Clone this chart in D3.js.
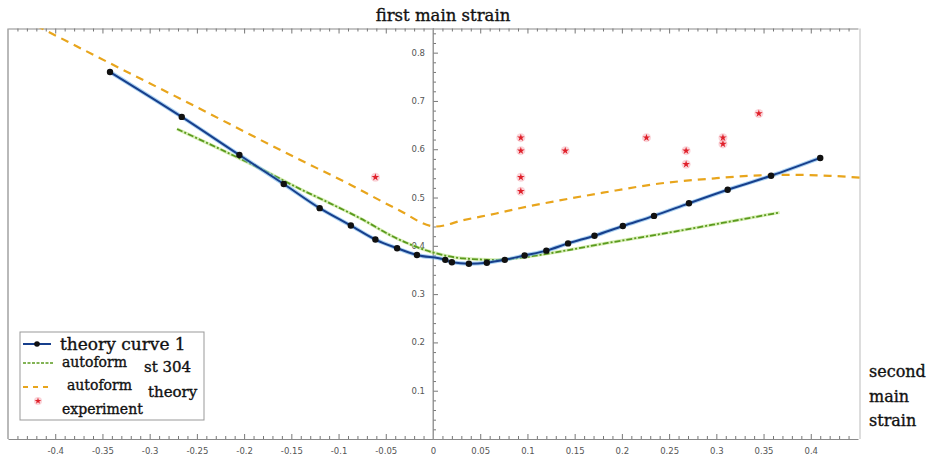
<!DOCTYPE html>
<html>
<head>
<meta charset="utf-8">
<script src="https://cdn.jsdelivr.net/npm/d3@7"></script>
<style>
  html, body { margin: 0; padding: 0; background: #fff; }
  svg { display: block; }
  .serif { font-family: "DejaVu Serif", serif; fill: #111; stroke: #111; stroke-width: 0.35px; }
</style>
</head>
<body>
<svg id="chart" width="942" height="458"></svg>
<script>
// ---------- data ----------
const theoryX = [-0.342, -0.266, -0.205, -0.158, -0.120, -0.087, -0.061, -0.038, -0.017, 0.013, 0.020, 0.038, 0.057, 0.076, 0.097, 0.120, 0.143, 0.171, 0.201, 0.234, 0.271, 0.312, 0.358, 0.410];
const theoryY = [0.760, 0.667, 0.588, 0.528, 0.478, 0.442, 0.413, 0.395, 0.381, 0.371, 0.366, 0.363, 0.365, 0.371, 0.380, 0.390, 0.405, 0.421, 0.441, 0.462, 0.488, 0.516, 0.545, 0.582];

const st304X = [-0.271, -0.183, -0.141, -0.109, -0.077, -0.038, -0.003, 0.032, 0.067, 0.095, 0.134, 0.185, 0.240, 0.311, 0.367];
const st304Y = [0.642, 0.560, 0.518, 0.488, 0.457, 0.415, 0.388, 0.374, 0.371, 0.376, 0.388, 0.406, 0.424, 0.449, 0.469];

const afTheoryX = [-0.42, -0.342, -0.265, -0.148, -0.088, -0.038, 0.003, 0.032, 0.067, 0.099, 0.134, 0.180, 0.240, 0.300, 0.346, 0.381, 0.420, 0.452];
const afTheoryY = [0.856, 0.778, 0.702, 0.585, 0.527, 0.476, 0.440, 0.453, 0.467, 0.481, 0.494, 0.510, 0.529, 0.540, 0.546, 0.547, 0.545, 0.541];

const expX = [-0.061, 0.093, 0.093, 0.093, 0.093, 0.140, 0.226, 0.268, 0.268, 0.307, 0.307, 0.345];
const expY = [0.542, 0.624, 0.597, 0.542, 0.513, 0.597, 0.624, 0.597, 0.569, 0.624, 0.611, 0.674];

const xTickValues = [-0.4, -0.35, -0.3, -0.25, -0.2, -0.15, -0.1, -0.05, 0, 0.05, 0.1, 0.15, 0.2, 0.25, 0.3, 0.35, 0.4];
const xTickLabels = ["-0.4", "-0.35", "-0.3", "-0.25", "-0.2", "-0.15", "-0.1", "-0.05", "0", "0.05", "0.1", "0.15", "0.2", "0.25", "0.3", "0.35", "0.4"];
const yTickValues = [0.1, 0.2, 0.3, 0.4, 0.5, 0.6, 0.7, 0.8];
const yTickLabels = ["0.1", "0.2", "0.3", "0.4", "0.5", "0.6", "0.7", "0.8"];

const titleText = "first main strain";
const sideLabel = ["second", "main", "strain"];
const legendNames = ["theory curve 1", "autoform", "st 304", "autoform", "theory", "experiment"];

// ---------- layout ----------
const svg = d3.select("#chart");
const L = 8, R = 858, T = 28.5, B = 439;
const x = d3.scaleLinear().domain([-0.45, 0.45]).range([L, R]);
const y = d3.scaleLinear().domain([0, 0.85]).range([B, T]);

const frameColor = "#8a8a8a";
const tickColor = "#777";
const labelColor = "#555";

svg.append("defs").append("clipPath").attr("id", "plotclip")
  .append("rect").attr("x", L).attr("y", T).attr("width", R - L + 2).attr("height", B - T);

// frame: left, right lines
svg.append("line").attr("x1", L).attr("x2", L).attr("y1", T).attr("y2", B).attr("stroke", frameColor).attr("stroke-width", 1.2);
svg.append("line").attr("x1", R + 2).attr("x2", R + 2).attr("y1", T).attr("y2", B).attr("stroke", "#bbb").attr("stroke-width", 1);

// minor tick arrays
const xMinor = d3.range(-45, 46, 1).map(d => d / 100).filter(v => Math.abs(Math.round(v * 100) % 5) !== 0);
const yMinor = d3.range(2, 85, 2).map(d => d / 100).filter(v => Math.round(v * 100) % 10 !== 0);

// bottom axis (ticks pointing up)
const bottomMajor = d3.axisBottom(x).tickValues(xTickValues)
  .tickFormat((d, i) => xTickLabels[i]).tickSizeInner(-5).tickSizeOuter(0).tickPadding(9);
const gb = svg.append("g").attr("transform", `translate(0,${B})`).call(bottomMajor);
gb.select(".domain").attr("stroke", frameColor).attr("stroke-width", 1.2);
gb.selectAll(".tick line").attr("stroke", tickColor);
gb.selectAll(".tick text").attr("fill", labelColor).attr("font-family", "DejaVu Sans, sans-serif").attr("font-size", 8.5);
const gbm = svg.append("g").attr("transform", `translate(0,${B})`)
  .call(d3.axisBottom(x).tickValues(xMinor).tickFormat("").tickSizeInner(-3).tickSizeOuter(0));
gbm.select(".domain").remove();
gbm.selectAll(".tick line").attr("stroke", tickColor);

// top axis (ticks pointing down)
const gt = svg.append("g").attr("transform", `translate(0,${T})`)
  .call(d3.axisTop(x).tickValues(xTickValues).tickFormat("").tickSizeInner(-5).tickSizeOuter(0));
gt.select(".domain").attr("stroke", frameColor).attr("stroke-width", 1.2);
gt.selectAll(".tick line").attr("stroke", tickColor);
const gtm = svg.append("g").attr("transform", `translate(0,${T})`)
  .call(d3.axisTop(x).tickValues(xMinor).tickFormat("").tickSizeInner(-3).tickSizeOuter(0));
gtm.select(".domain").remove();
gtm.selectAll(".tick line").attr("stroke", tickColor);

// central y axis at x=0 (ticks to the right, labels on the left)
const x0 = x(0);
const gy = svg.append("g").attr("transform", `translate(${x0},0)`)
  .call(d3.axisRight(y).tickValues(yTickValues).tickFormat("").tickSizeInner(5).tickSizeOuter(0));
gy.select(".domain").attr("stroke", "#999").attr("stroke-width", 1);
gy.selectAll(".tick line").attr("stroke", tickColor);
const gym = svg.append("g").attr("transform", `translate(${x0},0)`)
  .call(d3.axisRight(y).tickValues(yMinor).tickFormat("").tickSizeInner(3).tickSizeOuter(0));
gym.select(".domain").remove();
gym.selectAll(".tick line").attr("stroke", tickColor);
svg.append("line").attr("x1", x0).attr("x2", x0).attr("y1", T).attr("y2", B).attr("stroke", "#999");
svg.append("g").selectAll("text").data(yTickValues).join("text")
  .attr("x", x0 - 8).attr("y", d => y(d)).attr("dy", "0.35em")
  .attr("text-anchor", "end").attr("fill", labelColor)
  .attr("font-family", "DejaVu Sans, sans-serif").attr("font-size", 8.5)
  .text((d, i) => yTickLabels[i]);

// ---------- series ----------
const plot = svg.append("g").attr("clip-path", "url(#plotclip)");

const orangeData = afTheoryX.map((v, i) => [v, afTheoryY[i]]);
const greenData = st304X.map((v, i) => [v, st304Y[i]]);
const blueData = theoryX.map((v, i) => [v, theoryY[i]]);

const lineMono = d3.line().x(d => x(d[0])).y(d => y(d[1])).curve(d3.curveMonotoneX);

plot.append("path").datum(orangeData).attr("d", lineMono)
  .attr("fill", "none").attr("stroke", "#e8a51c").attr("stroke-width", 2.2)
  .attr("stroke-dasharray", "8,6");

plot.append("path").datum(greenData).attr("d", lineMono)
  .attr("fill", "none").attr("stroke", "#b8e07a").attr("stroke-width", 3.2).attr("opacity", 0.55);
plot.append("path").datum(greenData).attr("d", lineMono)
  .attr("fill", "none").attr("stroke", "#5a9a1e").attr("stroke-width", 1.8)
  .attr("stroke-dasharray", "6,2,2,2");

plot.append("path").datum(blueData).attr("d", lineMono)
  .attr("fill", "none").attr("stroke", "#6fb0e8").attr("stroke-width", 4).attr("opacity", 0.6);
plot.append("path").datum(blueData).attr("d", lineMono)
  .attr("fill", "none").attr("stroke", "#173f8c").attr("stroke-width", 2);
plot.append("g").selectAll("circle").data(blueData).join("circle")
  .attr("cx", d => x(d[0])).attr("cy", d => y(d[1])).attr("r", 3.2).attr("fill", "#111");

const expData = expX.map((v, i) => [v, expY[i]]);
const expG = plot.append("g");
expG.selectAll("circle").data(expData).join("circle")
  .attr("cx", d => x(d[0])).attr("cy", d => y(d[1])).attr("r", 4.5)
  .attr("fill", "#f7b8c0").attr("opacity", 0.6);
expG.selectAll("path").data(expData).join("path")
  .attr("transform", d => `translate(${x(d[0])},${y(d[1])})`)
  .attr("d", d3.symbol().type(d3.symbolStar).size(18))
  .attr("fill", "#e0202a");

// ---------- title & side label ----------
svg.append("text").attr("class", "serif").attr("x", 443).attr("y", 21).attr("text-anchor", "middle")
  .attr("font-size", 16.5).text(titleText);
svg.append("g").selectAll("text").data(sideLabel).join("text").attr("class", "serif")
  .attr("x", 869).attr("y", (d, i) => 377 + i * 24.5)
  .attr("font-size", 16).text(d => d);

// ---------- legend ----------
const lg = svg.append("g");
lg.append("rect").attr("x", 20).attr("y", 332).attr("width", 184).attr("height", 88)
  .attr("fill", "#fff").attr("stroke", "#999").attr("stroke-width", 1);
// theory curve 1
lg.append("line").attr("x1", 23).attr("x2", 51).attr("y1", 344).attr("y2", 344)
  .attr("stroke", "#173f8c").attr("stroke-width", 2);
lg.append("circle").attr("cx", 37).attr("cy", 344).attr("r", 2.8).attr("fill", "#111");
lg.append("text").attr("class", "serif").attr("x", 60).attr("y", 350)
  .attr("font-size", 17).text(legendNames[0]);
// autoform st 304
lg.append("line").attr("x1", 23).attr("x2", 53).attr("y1", 363).attr("y2", 363)
  .attr("stroke", "#5a9a1e").attr("stroke-width", 1.5).attr("stroke-dasharray", "3,1.5");
lg.append("text").attr("class", "serif").attr("x", 62).attr("y", 367)
  .attr("font-size", 14).text(legendNames[1]);
lg.append("text").attr("class", "serif").attr("x", 144).attr("y", 372)
  .attr("font-size", 15).text(legendNames[2]);
// autoform theory
lg.append("line").attr("x1", 23).attr("x2", 53).attr("y1", 387).attr("y2", 387)
  .attr("stroke", "#e8a51c").attr("stroke-width", 2).attr("stroke-dasharray", "5,5");
lg.append("text").attr("class", "serif").attr("x", 67).attr("y", 390)
  .attr("font-size", 14).text(legendNames[3]);
lg.append("text").attr("class", "serif").attr("x", 148).attr("y", 397)
  .attr("font-size", 15).text(legendNames[4]);
// experiment
lg.append("circle").attr("cx", 38).attr("cy", 401).attr("r", 4).attr("fill", "#f7b8c0").attr("opacity", 0.6);
lg.append("path").attr("transform", "translate(38,401)")
  .attr("d", d3.symbol().type(d3.symbolStar).size(14)).attr("fill", "#e0202a");
lg.append("text").attr("class", "serif").attr("x", 62).attr("y", 414)
  .attr("font-size", 14).text(legendNames[5]);
</script>
</body>
</html>
